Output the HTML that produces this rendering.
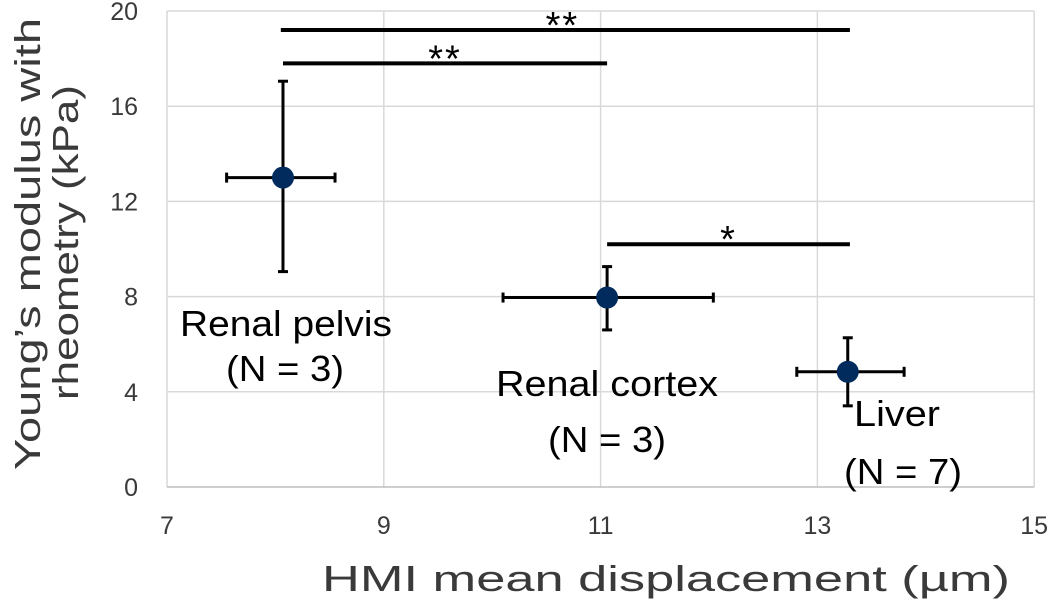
<!DOCTYPE html>
<html><head><meta charset="utf-8"><style>
body{margin:0;background:#fff}
svg text{font-family:"Liberation Sans",sans-serif;fill:#3a3a3a}
</style></head><body>
<svg id="c" width="1050" height="607"></svg>
<script>
const names=["Renal pelvis","Renal cortex","Liver"];
const xs=[8.07,11.06,13.28];
const ys=[13.0,7.96,4.84];
const xLo=[7.55,10.1,12.81];
const xHi=[8.55,12.04,13.8];
const yLo=[9.05,6.6,3.41];
const yHi=[17.05,9.26,6.27];
const xTicks=[7,9,11,13,15];
const yTicks=[0,4,8,12,16,20];
const sigFrom=[8.05,8.07,11.06];
const sigTo=[13.3,11.06,13.3];
const sigY=[19.2,17.8,10.2];
const sigLabel=["**","**","*"];
const svg=document.getElementById('c');const NS='http://www.w3.org/2000/svg';
const X=v=>167+(v-7)*108.4, Y=v=>487-v*23.8;
function el(t,a,p){const e=document.createElementNS(NS,t);for(const k in a)e.setAttribute(k,a[k]);(p||svg).appendChild(e);return e;}
xTicks.forEach(t=>{const l=el('line',{x1:X(t),x2:X(t),y1:Y(0),y2:Y(20),stroke:'#d9d9d9','stroke-width':1.5});

const tx=el('text',{x:X(t),y:534,'text-anchor':'middle','font-size':25});tx.textContent=t;
});
yTicks.forEach(t=>{const l=el('line',{x1:X(7),x2:X(15),y1:Y(t),y2:Y(t),stroke:t==0?'#bfbfbf':'#d9d9d9','stroke-width':1.5});

const tx=el('text',{x:138,y:Y(t)+9,'text-anchor':'end','font-size':25});tx.textContent=t;
});
let xt=el('text',{x:322,y:591,'font-size':36,textLength:688,lengthAdjust:'spacingAndGlyphs'});xt.textContent='HMI mean displacement (µm)';

let yt=el('text',{transform:'translate(40,470) rotate(-90)','font-size':36,textLength:452,lengthAdjust:'spacingAndGlyphs'});yt.textContent='Young’s modulus with';

let yt2=el('text',{transform:'translate(78,400) rotate(-90)','font-size':36,textLength:315,lengthAdjust:'spacingAndGlyphs'});yt2.textContent='rheometry (kPa)';

sigFrom.forEach((f,i)=>{const l=el('line',{x1:X(f),x2:X(sigTo[i]),y1:Y(sigY[i]),y2:Y(sigY[i]),stroke:'#000','stroke-width':4});

const t=el('text',{x:(X(f)+X(sigTo[i]))/2+(i==0?-3:0),y:Y(sigY[i])+8,'text-anchor':'middle','font-size':38,'letter-spacing':2,style:'fill:#000'});t.textContent=sigLabel[i];
});
xs.forEach((x,i)=>{const g=el('g',{});
const s={stroke:'#000','stroke-width':3};
el('line',Object.assign({x1:X(xLo[i]),x2:X(xHi[i]),y1:Y(ys[i]),y2:Y(ys[i])},s),g);
el('line',Object.assign({x1:X(x),x2:X(x),y1:Y(yLo[i]),y2:Y(yHi[i])},s),g);
[xLo[i],xHi[i]].forEach(v=>el('line',Object.assign({x1:X(v),x2:X(v),y1:Y(ys[i])-5,y2:Y(ys[i])+5},s),g));
[yLo[i],yHi[i]].forEach(v=>el('line',Object.assign({x1:X(x)-5,x2:X(x)+5,y1:Y(v),y2:Y(v)},s),g));
el('circle',{cx:X(x),cy:Y(ys[i]),r:11,fill:'#002b5c'},g);});
const labs=[[286,336,"Renal pelvis",212],[285,381,"(N = 3)",118],[607,396,"Renal cortex",222],[607,452,"(N = 3)",118],[897,426,"Liver",86],[903,484,"(N = 7)",118]];
labs.forEach(a=>{const t=el('text',{x:a[0]-a[3]/2,y:a[1],'font-size':36,textLength:a[3],lengthAdjust:'spacingAndGlyphs',style:'fill:#000'});t.textContent=a[2];
});
</script></body></html>
